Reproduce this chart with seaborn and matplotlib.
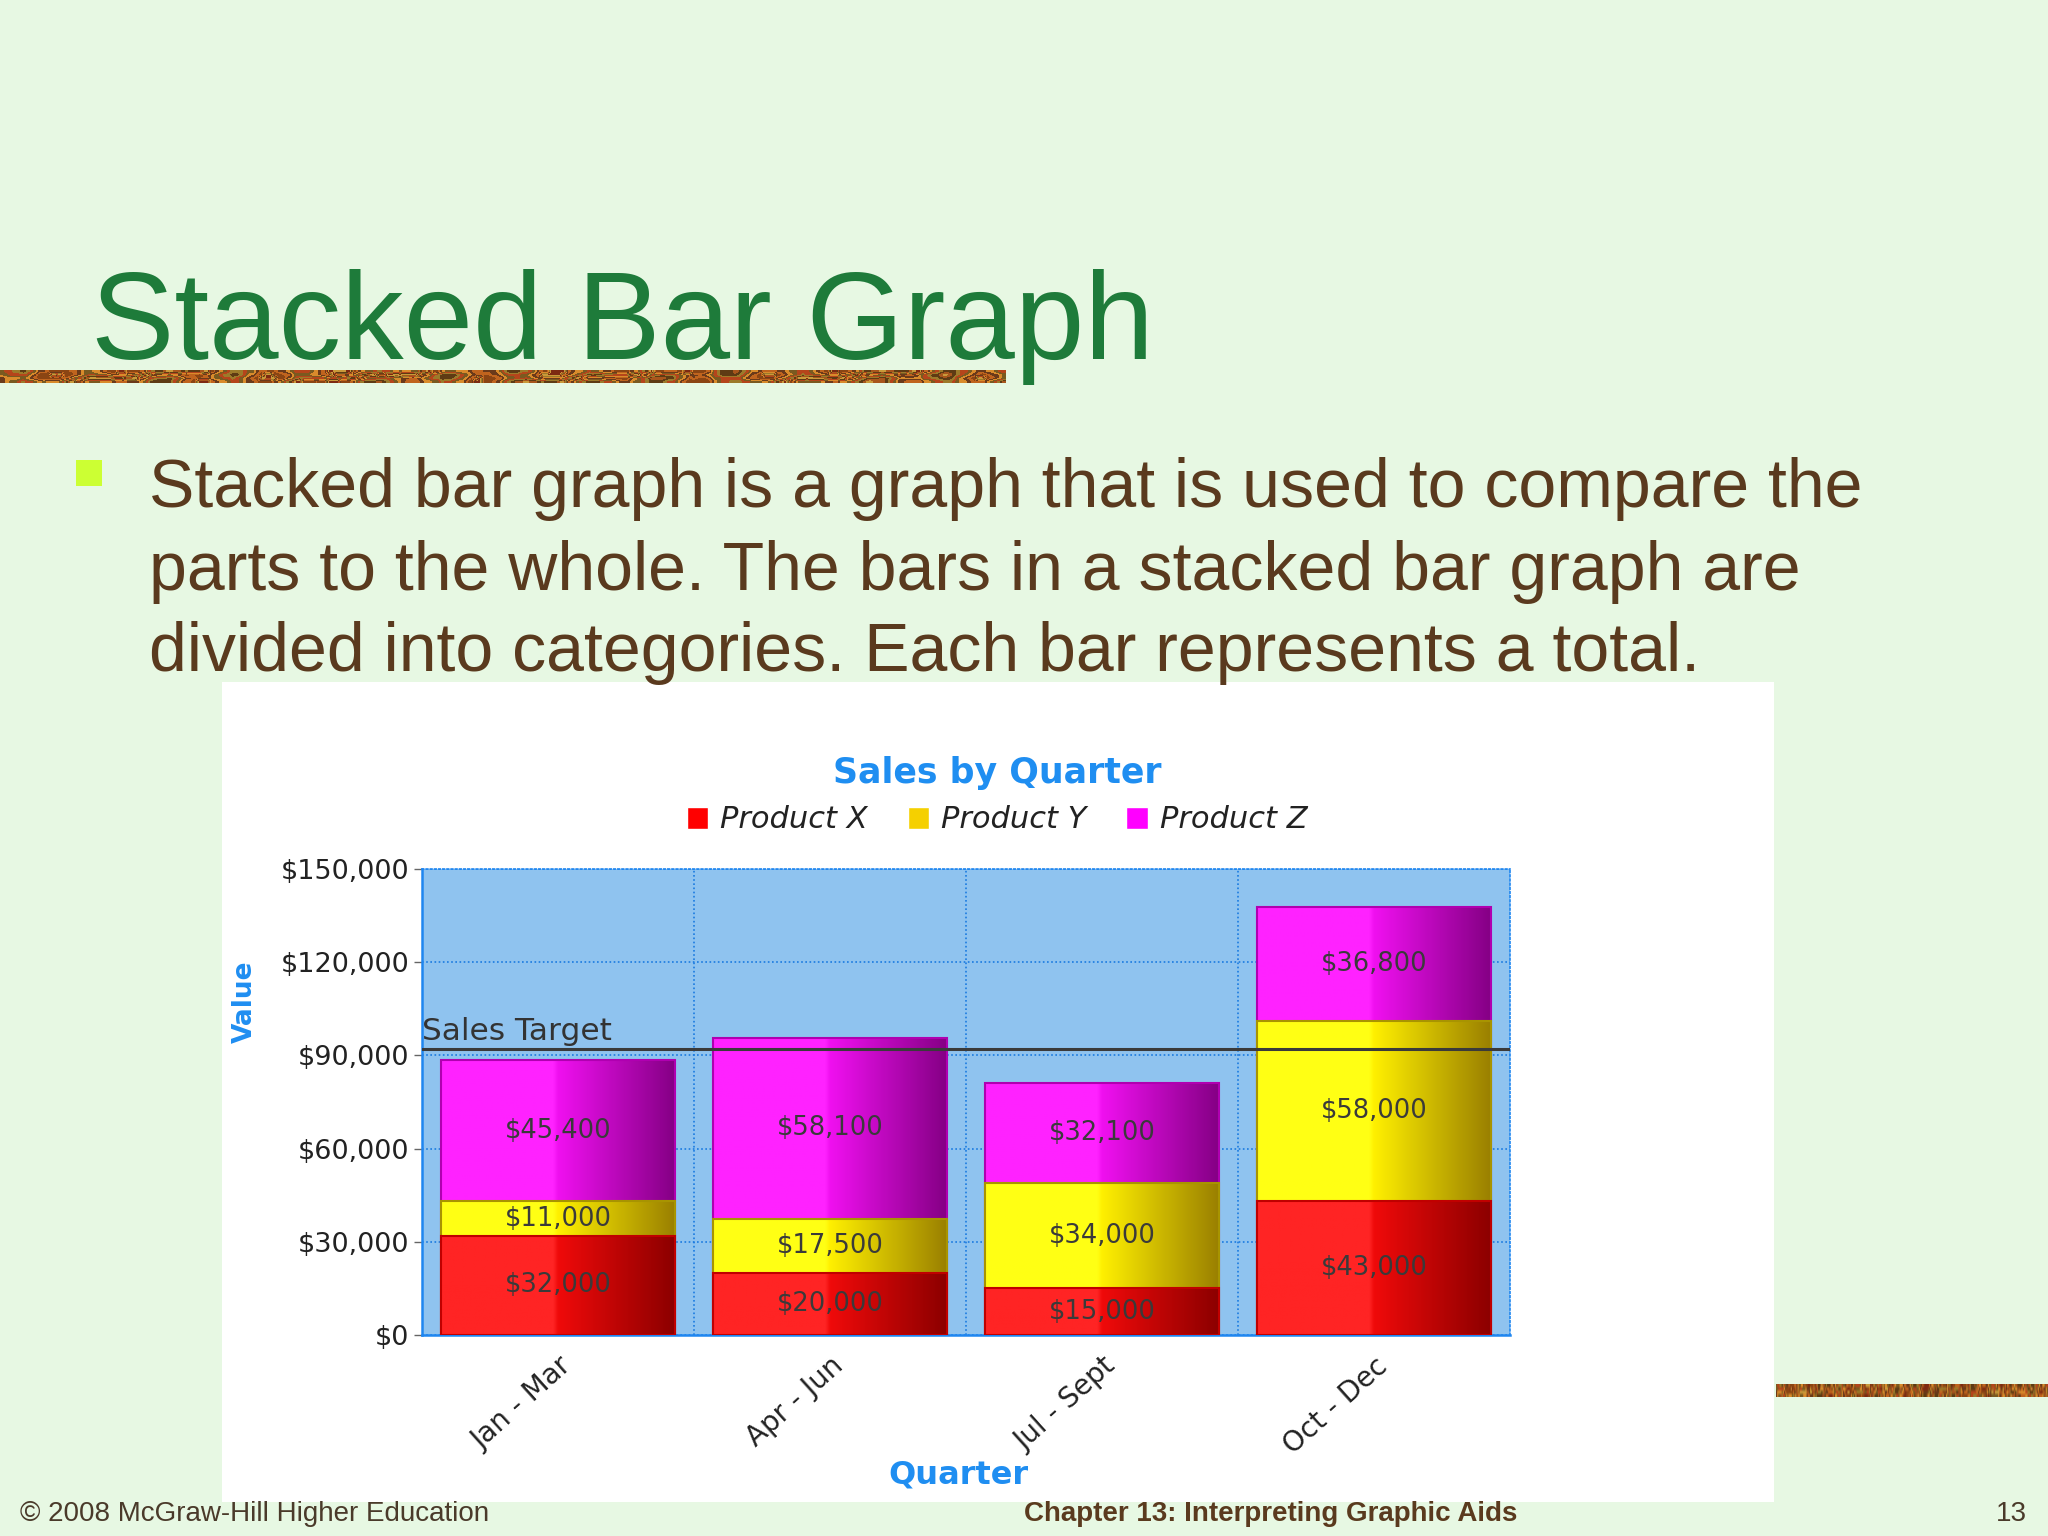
import numpy as np
import pandas as pd
import matplotlib
matplotlib.use("Agg")
import matplotlib.pyplot as plt
import seaborn as sns
from matplotlib.colors import LinearSegmentedColormap, ListedColormap
from matplotlib.patches import Rectangle, Patch

# data
quarters = ["Jan - Mar", "Apr - Jun", "Jul - Sept", "Oct - Dec"]
product_x = [32000, 20000, 15000, 43000]
product_y = [11000, 17500, 34000, 58000]
product_z = [45400, 58100, 32100, 36800]
sales_target = 92000
y_ticks = [0, 30000, 60000, 90000, 120000, 150000]

df = pd.DataFrame({"Quarter": quarters, "X": product_x, "Y": product_y, "Z": product_z})
df["XY"] = df["X"] + df["Y"]
df["XYZ"] = df["XY"] + df["Z"]

sns.set_theme(style="white")
plt.rcParams["font.family"] = ["DejaVu Sans"]

BG = "#e7f8e3"
BLUE = "#1f8ef1"
W, H = 2048, 1536


def fx(px):
    return px / W


def fy(py):
    return 1 - py / H


fig = plt.figure(figsize=(20.48, 15.36), dpi=100, facecolor=BG)

# white panel behind the chart
fig.add_artist(Rectangle((fx(222), fy(1502)), (1774 - 222) / W, (1502 - 682) / H,
                         transform=fig.transFigure, facecolor="white",
                         edgecolor="none", zorder=-1))

# decorative autumn strips
strip_cols = ["#8b4513", "#c0641e", "#6b3a1a", "#d98b2b", "#7a5a20",
              "#b5451b", "#9c7a2a", "#5e3b14", "#a8561c", "#c99a3a", "#7d2a12"]
cols_i = np.arange(240)
rows_i = np.arange(4)[:, None]
pattern = ((np.sin(cols_i * 0.37) * 3 + np.cos(cols_i * 0.11 + rows_i) * 4
            + (cols_i // 5) + rows_i * 2).astype(int)) % len(strip_cols)
for rect in ([0, fy(383), 1006 / W, 13 / H], [fx(1776), fy(1397), 272 / W, 13 / H]):
    sax = fig.add_axes(rect)
    sax.imshow(pattern, cmap=ListedColormap(strip_cols), aspect="auto",
               interpolation="bilinear")
    sax.axis("off")

# slide title and body
fig.text(fx(91), fy(359), "Stacked Bar Graph", fontsize=90, color="#1e7b3a",
         family="Liberation Sans", va="baseline", zorder=5)
fig.add_artist(Rectangle((fx(76), fy(486)), 26 / W, 26 / H, transform=fig.transFigure,
                         facecolor="#ccff33", edgecolor="none"))
body = ["Stacked bar graph is a graph that is used to compare the",
        "parts to the whole. The bars in a stacked bar graph are",
        "divided into categories. Each bar represents a total."]
for line, base in zip(body, [507, 590, 671]):
    fig.text(fx(149), fy(base), line, fontsize=49, color="#5a3a1e",
             family="Liberation Sans", va="baseline", zorder=5)

# footer
fig.text(fx(20), fy(1521), "© 2008 McGraw-Hill Higher Education", fontsize=20,
         color="#4a3a2a", family="Liberation Sans", va="baseline")
fig.text(fx(1271), fy(1521), "Chapter 13: Interpreting Graphic Aids", fontsize=20,
         color="#5a3a1e", family="Liberation Sans", weight="bold", ha="center",
         va="baseline")
fig.text(fx(2027), fy(1521), "13", fontsize=20, color="#4a3a2a",
         family="Liberation Sans", ha="right", va="baseline")

# chart
ax = fig.add_axes([fx(422), fy(1335), 1088 / W, 466 / H])
ax.set_facecolor("#8fc3ef")

layers = [
    ("XYZ", ["#ff22ff", "#ff22ff", "#f010f0", "#850085"], "#b000b0", 2),
    ("XY", ["#ffff14", "#ffff14", "#fff000", "#9a8000"], "#a89400", 3),
    ("X", ["#ff2424", "#ff2424", "#f00a0a", "#8c0000"], "#c00000", 4),
]
grad = np.linspace(0, 1, 256).reshape(1, -1)
for col, cols, edge, z in layers:
    cmap = LinearSegmentedColormap.from_list(col, list(zip([0, 0.48, 0.5, 1], cols)))
    n0 = len(ax.patches)
    sns.barplot(data=df, x="Quarter", y=col, color=cols[0], saturation=1,
                width=0.86, ax=ax)
    for p in ax.patches[n0:]:
        p.set_facecolor("none")
        p.set_edgecolor(edge)
        p.set_linewidth(1.5)
        p.set_zorder(z + 0.5)
        x0, w, h = p.get_x(), p.get_width(), p.get_height()
        im = ax.imshow(grad, extent=[x0, x0 + w, 0, h], aspect="auto", cmap=cmap,
                       interpolation="bilinear", zorder=z)
        im.set_clip_path(p)

# segment labels
for i in range(len(quarters)):
    mids = [product_x[i] / 2,
            product_x[i] + product_y[i] / 2,
            product_x[i] + product_y[i] + product_z[i] / 2]
    for v, m in zip([product_x[i], product_y[i], product_z[i]], mids):
        ax.text(i, m, f"${v:,}", ha="center", va="center", fontsize=18.5,
                color="#3a3a3a", zorder=7)

# sales target
ax.axhline(sales_target, color="#3a3a3a", lw=2.2, zorder=6)
ax.text(-0.5, sales_target + 900, "Sales Target", ha="left", va="bottom",
        fontsize=22.5, color="#333333", zorder=7)

ax.set_xlim(-0.5, len(quarters) - 0.5)
ax.set_ylim(0, 150000)
ax.set_yticks(y_ticks)
ax.set_yticklabels([f"${v:,}" for v in y_ticks], fontsize=19.5, color="#222222")
ax.set_xticks(range(len(quarters)))
ax.set_xticklabels(quarters, rotation=42, ha="right", rotation_mode="anchor",
                   fontsize=20, color="#222222")
ax.tick_params(axis="x", length=0, pad=12)
ax.tick_params(axis="y", length=6, width=1, color="#666666", direction="out", left=True, pad=3)
ax.set_xlabel("")
ax.set_ylabel("")

ax.set_axisbelow(True)
ax.yaxis.grid(True, linestyle=(0, (1, 1.5)), color="#1a7ae0", lw=1.2)
for xv in [0.5, 1.5, 2.5]:
    ax.axvline(xv, linestyle=(0, (1, 1.5)), color="#1a7ae0", lw=1.2, zorder=1)
for s in ["left", "bottom"]:
    ax.spines[s].set_color("#1f86f0")
    ax.spines[s].set_linewidth(1.8)
for s in ["top", "right"]:
    ax.spines[s].set_color("#1f86f0")
    ax.spines[s].set_linewidth(1.2)
    ax.spines[s].set_linestyle((0, (1, 1.5)))

# chart title, legend, axis titles
fig.text(fx(997), fy(773), "Sales by Quarter", fontsize=25, weight="bold",
         color=BLUE, ha="center", va="center")
handles = [Patch(facecolor="#ff0000"), Patch(facecolor="#f5d000"), Patch(facecolor="#ff00ff")]
fig.legend(handles, ["Product X", "Product Y", "Product Z"], loc="center",
           bbox_to_anchor=(fx(997), fy(820)), ncol=3, frameon=False,
           prop={"style": "italic", "size": 22}, handlelength=0.7, handleheight=0.7,
           handletextpad=0.4, columnspacing=1.3, labelcolor="#222222")
fig.text(fx(245), fy(1002), "Value", fontsize=19, weight="bold", color=BLUE,
         rotation=90, ha="center", va="center")
fig.text(fx(958), fy(1475), "Quarter", fontsize=23, weight="bold", color=BLUE,
         ha="center", va="center")

fig.savefig("out.png", dpi=100, facecolor=BG)
